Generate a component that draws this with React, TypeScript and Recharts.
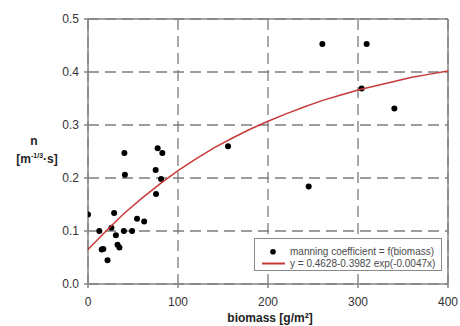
import React from "react";
import { ScatterChart, Scatter, XAxis, YAxis, CartesianGrid, Legend } from "recharts";

// measured points (biomass in g/m², manning n)
const biomass = [0, 12.6, 15.2, 17, 21.7, 26, 29, 31, 32.8, 34.9, 39.8, 40.4, 41, 49, 54.5, 62.4, 75.2, 75.6, 77.4, 81.2, 82.6, 155.6, 245.2, 260.4, 304, 309.6, 340.4];
const manning = [0.131, 0.1, 0.065, 0.066, 0.045, 0.106, 0.134, 0.092, 0.074, 0.069, 0.1, 0.247, 0.206, 0.1, 0.123, 0.118, 0.215, 0.17, 0.256, 0.198, 0.247, 0.26, 0.184, 0.453, 0.369, 0.453, 0.331];

// fitted curve
const fitBiomass = [0, 20, 40, 60, 80, 100, 120, 140, 160, 180, 200, 220, 240, 260, 280, 300, 320, 340, 360, 380, 400];
const fitN = [0.065, 0.1, 0.133, 0.162, 0.189, 0.214, 0.236, 0.257, 0.275, 0.292, 0.307, 0.321, 0.334, 0.346, 0.356, 0.366, 0.374, 0.382, 0.39, 0.396, 0.402];

const xTicks = [0, 100, 200, 300, 400];
const yTicks = [0, 0.1, 0.2, 0.3, 0.4, 0.5];
const xMinorTicks = [0, 20, 40, 60, 80, 100, 120, 140, 160, 180, 200, 220, 240, 260, 280, 300, 320, 340, 360, 380, 400];
const yMinorTicks = [0, 0.02, 0.04, 0.06, 0.08, 0.1, 0.12, 0.14, 0.16, 0.18, 0.2, 0.22, 0.24, 0.26, 0.28, 0.3, 0.32, 0.34, 0.36, 0.38, 0.4, 0.42, 0.44, 0.46, 0.48, 0.5];

const pointsName = "manning coefficient = f(biomass)";
const fitName = "y = 0.4628-0.3982 exp(-0.0047x)";

const points = biomass.map((x, i) => ({ x, y: manning[i] }));
const fit = fitBiomass.map((x, i) => ({ x, y: fitN[i] }));

const FONT = "Arial, 'Liberation Sans', Helvetica, sans-serif";
const AXIS = "#858585";
const RED = "#c83a3a";

const LegendBox = ({ payload }: any) => {
  const items = payload || [];
  return (
    <svg width={188} height={33} style={{ display: "block" }}>
      <rect x={0.5} y={0.5} width={187} height={32} fill="#fff" stroke="#8a8a8a" strokeWidth={1} />
      {items.map((p: any, i: number) => {
        const cy = 13.8 + i * 11.7;
        return (
          <g key={i}>
            {p.type === "line" ? (
              <line x1={8} x2={31} y1={cy} y2={cy} stroke={RED} strokeWidth={2} />
            ) : (
              <circle cx={19} cy={cy} r={2.8} fill="#000" />
            )}
            <text x={36} y={cy + 3.6} fontSize={10} fill="#4a4a4a" fontFamily={FONT}>{p.value}</text>
          </g>
        );
      })}
    </svg>
  );
};

const YLabel = ({ viewBox }: any) => (
  <text fontFamily={FONT} fontWeight="bold" fontSize={12} fill="#222" textAnchor="middle">
    <tspan x={viewBox.x + 34} y={145}>n</tspan>
    <tspan x={viewBox.x + 37} y={163}>[m</tspan>
    <tspan fontSize={7} dy={-5}>-1/3</tspan>
    <tspan dy={5}>·s]</tspan>
  </text>
);

const XLabel = ({ viewBox }: any) => (
  <text x={viewBox.x + viewBox.width / 2 + 2} y={viewBox.y + 38} fontFamily={FONT} fontWeight="bold" fontSize={12} fill="#222" textAnchor="middle">
    biomass [g/m²]
  </text>
);

export default function App() {
  const tickStyle = { fontSize: 12, fill: "#333", fontFamily: FONT };
  return (
    <div style={{ position: "absolute", left: 0, top: 0, width: 460, height: 326, background: "#fff" }}>
      <ScatterChart width={460} height={326} margin={{ top: 19, right: 12, bottom: 0, left: 0 }}>
        <CartesianGrid stroke="#7c7c7c" strokeWidth={1.3} strokeDasharray="11 6" />
        <XAxis type="number" dataKey="x" domain={[0, 400]} ticks={xTicks} height={42} tickSize={4} tickMargin={9}
          stroke={AXIS} strokeWidth={1.5} tick={tickStyle} label={<XLabel />} allowDataOverflow />
        <YAxis type="number" dataKey="y" domain={[0, 0.5]} ticks={yTicks} width={88} tickSize={4} tickMargin={5}
          stroke={AXIS} strokeWidth={1.5} tick={tickStyle} tickFormatter={(v: number) => v.toFixed(1)} label={<YLabel />} allowDataOverflow />
        <XAxis xAxisId="minB" type="number" domain={[0, 400]} ticks={xMinorTicks} orientation="bottom" mirror tick={false} tickSize={3} stroke={AXIS} axisLine={false} />
        <XAxis xAxisId="minT" type="number" domain={[0, 400]} ticks={xMinorTicks} orientation="top" mirror tick={false} tickSize={3} stroke={AXIS} strokeWidth={1.5} />
        <YAxis yAxisId="minL" type="number" domain={[0, 0.5]} ticks={yMinorTicks} orientation="left" mirror tick={false} tickSize={3} stroke={AXIS} axisLine={false} />
        <YAxis yAxisId="minR" type="number" domain={[0, 0.5]} ticks={yMinorTicks} orientation="right" mirror tick={false} tickSize={3} stroke={AXIS} strokeWidth={1.5} />
        <Scatter name={pointsName} data={points} fill="#000" legendType="circle" isAnimationActive={false}
          shape={(p: any) => <circle cx={p.cx} cy={p.cy} r={3} fill="#000" />} />
        <Scatter name={fitName} data={fit} legendType="line" line={{ stroke: RED, strokeWidth: 1.5 }} lineType="joint"
          shape={() => <g />} isAnimationActive={false} />
        <Legend layout="vertical" align="center" verticalAlign="middle" content={<LegendBox />}
          wrapperStyle={{ left: 254, top: 238, width: 188, height: 33 }} />
      </ScatterChart>
    </div>
  );
}
